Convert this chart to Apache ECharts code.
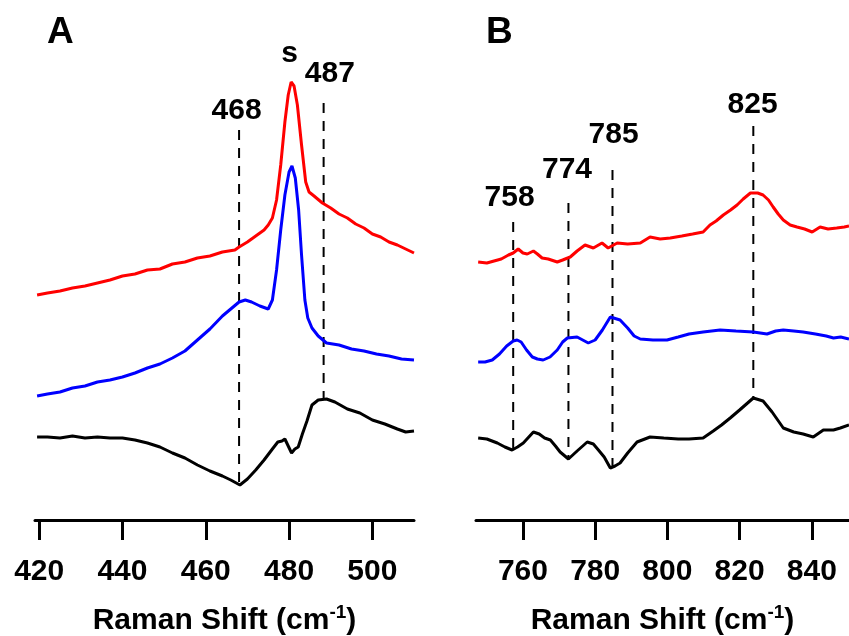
<!DOCTYPE html>
<html>
<head>
<meta charset="utf-8">
<script src="https://cdn.jsdelivr.net/npm/echarts@6/dist/echarts.min.js"></script>
<style>
  html, body { margin: 0; padding: 0; background: #fff; }
  #chart { width: 849px; height: 636px; }
</style>
</head>
<body>
<div id="chart"></div>
<script>
// Raman spectra, intensities in arbitrary units (offset traces)
var ticksA = [420, 440, 460, 480, 500];
var ticksB = [760, 780, 800, 820, 840];

var redA = [[419.5,225],[422,227],[425,229],[428,232],[431,234],[434,237],[437,240],[440,244],[443,246],
  [446,250],[449,251],[452,256],[455,258],[458,262],[461,264],[464,268],[467,270],[468,273],[470,278],
  [472,284],[474,290],[475,295],[476,302],[477,320],[478,355],[479,398],[479.8,425],[480.5,438],[481.2,434],
  [482,415],[483,375],[484,338],[484.8,328],[486,324],[488,317],[490,312],[492,306],[494,302],[496,296],
  [498,292],[500,286],[502,283],[504,278],[506,275],[508,271],[510,267]];
var blueA = [[419.5,124],[422,126],[425,128],[428,132],[431,134],[434,138],[437,140],[440,143],[443,147],
  [446,152],[449,156],[452,162],[455,169],[458,180],[461,191],[464,204],[466,211],[468,218],[469.5,220],
  [471,218],[473,214],[475,211],[476,220],[477,250],[478,290],[479,325],[480,348],[480.7,354],[481.5,342],
  [482.3,310],[483,265],[483.8,220],[484.5,202],[485.5,192],[487,184],[489,177],[492,175],[495,171],
  [498,169],[501,166],[504,164],[507,161],[510,160]];
var blackA = [[419.5,83],[422,83],[425,82],[428,84],[431,82],[434,83],[437,82],[440,82],[443,80],[446,77],
  [449,73],[452,67],[455,62],[458,55],[461,49],[464,44],[466,40],[468.2,35],[470,41],[472,50],[474,60],
  [476,71],[477.3,78],[478.3,79],[479,81],[479.8,74],[480.6,67],[481.4,71],[482.2,73],[483.2,86],[484.3,99],
  [485.5,115],[487,120],[489,121],[491,118],[494,111],[497,107],[500,100],[503,96],[506,91],[508,88],[510,89]];

var redB = [[747.6,258],[750,257],[752,259],[754,261],[756,265],[757.3,267],[758.7,271],[760,267],[761.2,266],
  [762.9,269],[764,266],[765.3,262],[767,261],[769.5,258],[771,260],[773.1,263],[775,269],[777.2,275],
  [779.5,272],[781.9,277],[783.6,272],[786.1,277],[789,276],[792.5,277],[795.2,283],[798,281],[800.8,282],
  [804,284],[807,286],[809.9,288],[811.8,295],[813.5,299],[815.5,305],[817.5,310],[819.3,315],[821,321],
  [823,327],[825,327],[826.5,325],[828,320],[829.3,313],[830.7,306],[832.1,300],[834,295],[835.9,293],
  [838,291],[840.1,288],[842.3,293],[844.5,291],[846.9,292],[849,293],[850.3,294]];
var blueB = [[747.6,158],[749.5,158],[751.5,160],[753.5,166],[755.5,174],[757.3,179],[758.4,180],[759.5,178],
  [761,170],[762.6,163],[764,161],[765.6,160],[767.5,163],[769.5,170],[771,178],[772.3,182],[775,183],
  [778.1,177],[780,180],[782,190],[784.2,203],[786.9,200],[789,192],[790.8,184],[792.5,181],[796,180],
  [799.9,180],[803,183],[806,186],[809.9,188],[814.6,190],[819,189],[823.8,188],[827.6,186],[830,189],
  [832.1,190],[835,189],[837.6,188],[841,186],[844,184],[846,182],[848,183],[850.3,181]];
var blackB = [[747.6,82],[750,81],[752.9,77],[755,73],[757,70],[758.5,73],[760.1,77],[762.9,88],[764.5,86],
  [766,82],[767.6,80],[769,74],[770.3,68],[772.6,61],[775,69],[777.8,78],[779.5,76],[780.9,70],[782.5,63],
  [784.2,52],[785.5,54],[786.9,57],[789,67],[791.6,78],[795.2,83],[799,82],[803,81],[806,81],[809.9,82],
  [812.7,89],[815,95],[817.4,102],[820,110],[823.8,122],[826.5,119],[829,108],[832.1,92],[835,88],
  [837.6,86],[840.4,83],[843.2,90],[846,90],[847.9,92],[850.3,95]];

// peak marker lines: [x, top, bottom]
var marksA = [[468, 390, 35], [488.3, 417, 121]];
var marksB = [[757.3, 298, 70], [772.6, 317, 61], [784.8, 350, 52], [823.8, 394, 122]];
// peak labels: [x, y, text]
var labelsA = [[467.4, 409, '468'], [489.8, 446, '487'], [480.1, 466, 's']];
var labelsB = [[756.3, 322, '758'], [772.2, 350, '774'], [785.1, 385, '785'], [823.6, 415, '825']];

var font = 'Arial, "Liberation Sans", sans-serif';
var chart = echarts.init(document.getElementById('chart'));

function xAxis(idx, min, max, ticks) {
  return {
    type: 'value', gridIndex: idx, min: min, max: max,
    splitLine: { show: false },
    axisLine: { lineStyle: { color: '#000', width: 3 } },
    axisTick: { customValues: ticks, length: 20, lineStyle: { color: '#000', width: 3 } },
    axisLabel: { customValues: ticks, margin: 37, color: '#000', fontSize: 30, fontWeight: 'bold', fontFamily: font },
    name: 'Raman Shift (cm{sup|-1})',
    nameLocation: 'middle', nameGap: 83,
    nameTextStyle: {
      color: '#000', fontSize: 30, fontWeight: 'bold', fontFamily: font,
      rich: { sup: { fontSize: 19, fontWeight: 'bold', fontFamily: font, color: '#000', verticalAlign: 'bottom', padding: [0, 0, 16, 0] } }
    }
  };
}
function yAxis(idx) {
  return { type: 'value', gridIndex: idx, min: 0, max: 500, show: false };
}
function curve(data, color, idx) {
  return { type: 'line', xAxisIndex: idx, yAxisIndex: idx, data: data, showSymbol: false, silent: true,
    lineStyle: { color: color, width: 3 } };
}
function dashes(marks, idx) {
  return marks.map(function (m) {
    return { type: 'line', xAxisIndex: idx, yAxisIndex: idx, showSymbol: false, silent: true,
      data: [[m[0], m[1]], [m[0], m[2]]],
      lineStyle: { color: '#000', width: 2, type: [10, 8] } };
  });
}
function texts(labels, idx) {
  return { type: 'scatter', xAxisIndex: idx, yAxisIndex: idx, symbolSize: 1, silent: true,
    itemStyle: { color: 'rgba(0,0,0,0)', opacity: 1 },
    data: labels.map(function (l) { return { value: [l[0], l[1]], name: l[2] }; }),
    label: { show: true, position: 'inside', formatter: '{b}', color: '#000', fontSize: 30, fontWeight: 'bold', fontFamily: font } };
}

var option = {
  backgroundColor: '#fff',
  animation: false,
  title: [
    { text: 'A', left: 42, top: 9, textStyle: { fontSize: 37, fontWeight: 'bold', color: '#000', fontFamily: font } },
    { text: 'B', left: 481, top: 9, textStyle: { fontSize: 37, fontWeight: 'bold', color: '#000', fontFamily: font } }
  ],
  grid: [
    { left: 35, width: 379, top: 20, height: 500, outerBoundsMode: 'none' },
    { left: 476, right: 0, top: 20, height: 500, outerBoundsMode: 'none' }
  ],
  xAxis: [xAxis(0, 419, 510, ticksA), xAxis(1, 747, 850.3, ticksB)],
  yAxis: [yAxis(0), yAxis(1)],
  series: [].concat(
    dashes(marksA, 0), dashes(marksB, 1),
    [curve(redA, '#ff0000', 0), curve(blueA, '#0000ff', 0), curve(blackA, '#000000', 0),
     curve(redB, '#ff0000', 1), curve(blueB, '#0000ff', 1), curve(blackB, '#000000', 1),
     texts(labelsA, 0), texts(labelsB, 1)]
  )
};
chart.setOption(option);
</script>
</body>
</html>
